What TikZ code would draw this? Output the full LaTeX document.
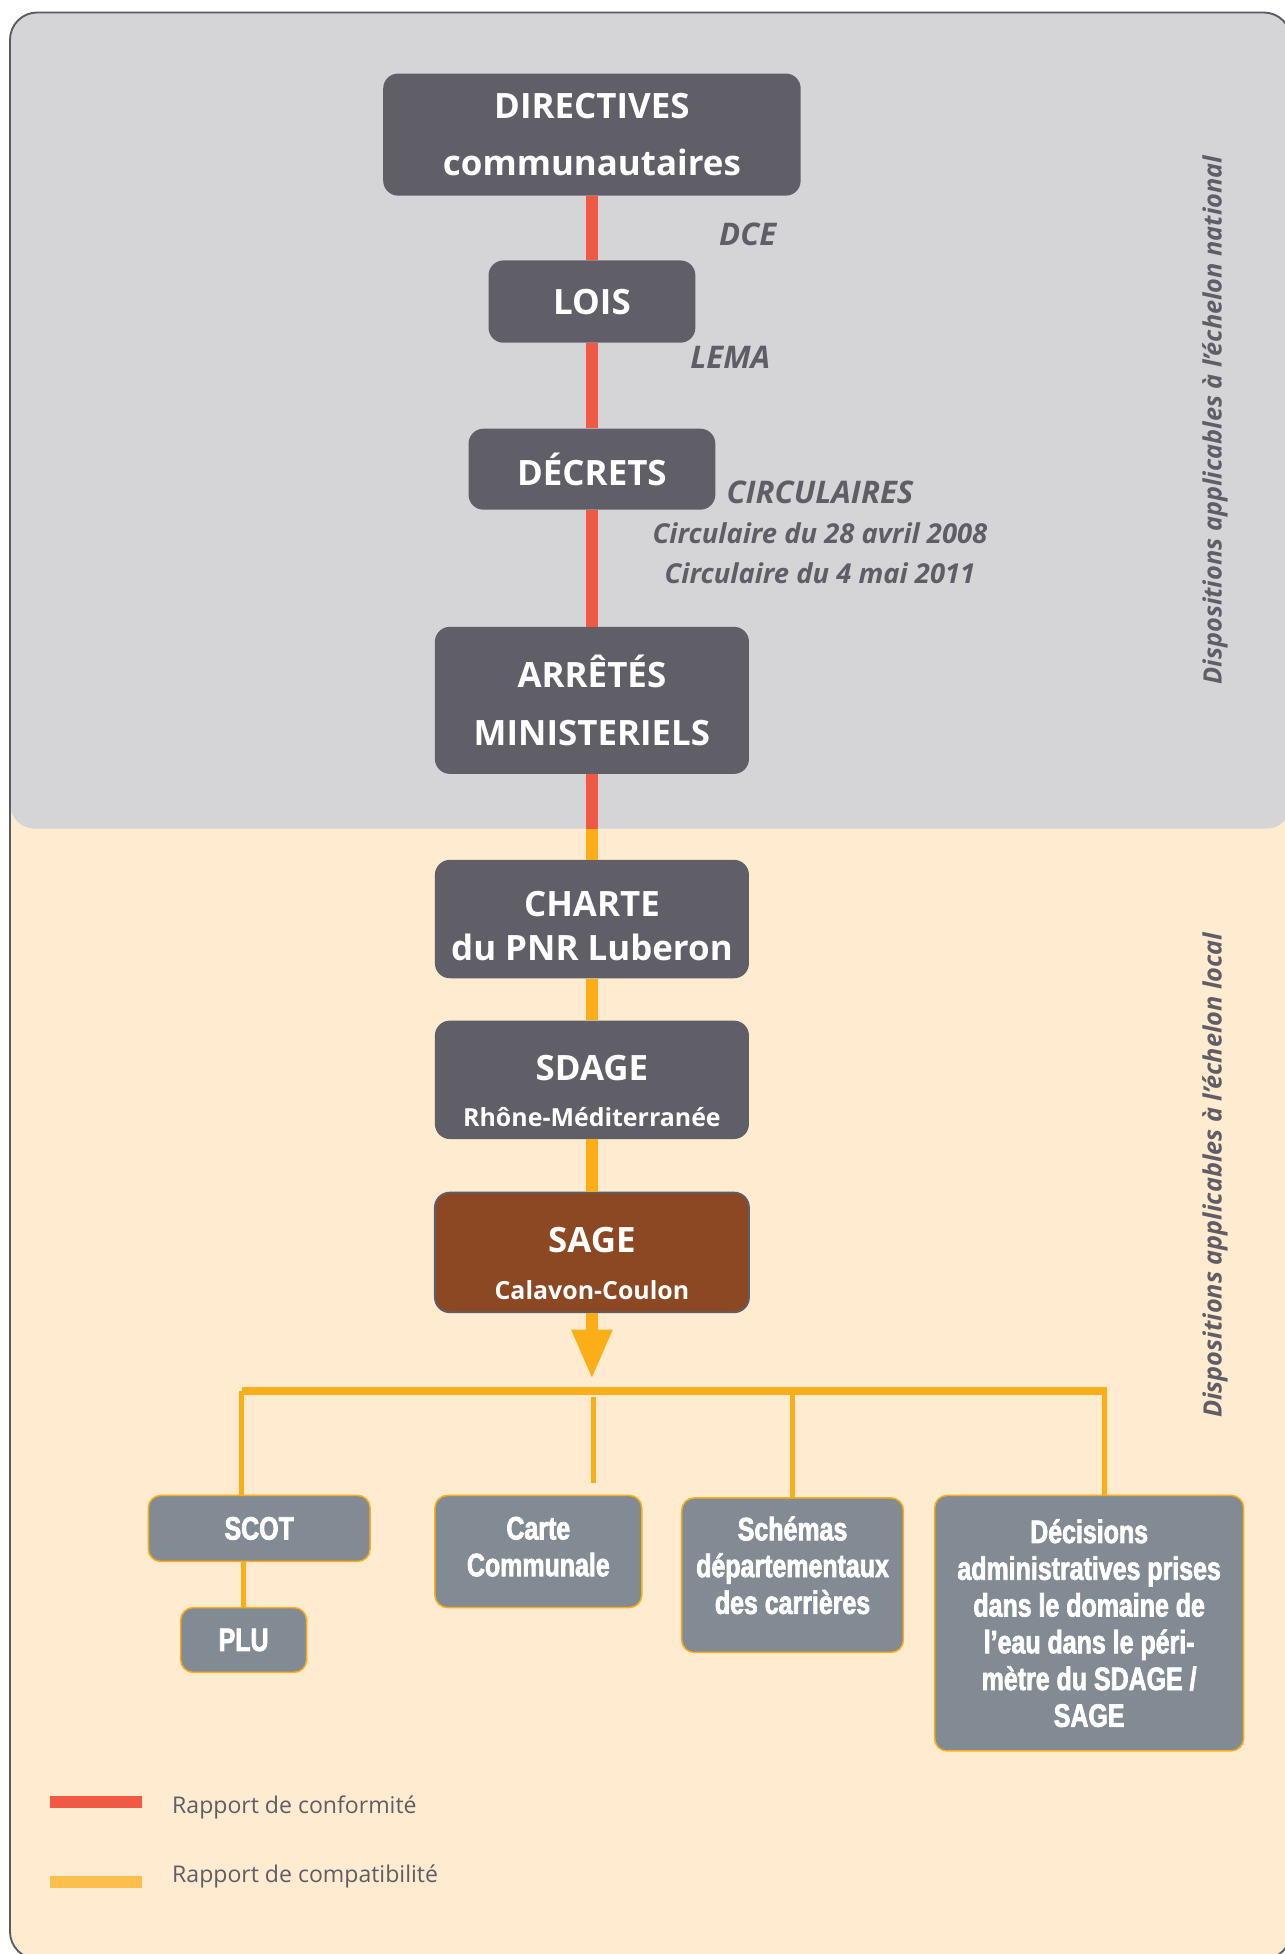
\documentclass[tikz,border=0pt]{standalone}
\usepackage{fontspec}
\setmainfont{Open Sans}
\newfontfamily\narrowfont[FakeStretch=0.77, FakeBold=2.2]{Liberation Sans Bold}
\usetikzlibrary{arrows.meta}
\definecolor{regiongray}{HTML}{D5D5D8}
\definecolor{regionbeige}{HTML}{FEEBD0}
\definecolor{framegray}{HTML}{5B5B63}
\definecolor{boxdark}{HTML}{605F67}
\definecolor{sagebrown}{HTML}{8B4822}
\definecolor{boxblue}{HTML}{828A93}
\definecolor{conformred}{HTML}{F05A45}
\definecolor{compatorange}{HTML}{FBAE17}
\definecolor{legendorange}{HTML}{FCBF4E}
\definecolor{labelgray}{HTML}{5F5E66}
\newcommand{\fsz}[2]{\fontsize{#1}{#2}\selectfont}
\newcommand{\topstrut}[1]{\rule{0pt}{#1}}

\begin{document}
\begin{tikzpicture}[
    x=1pt, y=-1pt,
    level/.style={
        fill=#1, rounded corners=12pt, text=white, align=center,
        inner sep=0pt, font=\bfseries\fsz{28}{46}
    },
    sub/.style={
        fill=boxblue, draw=compatorange, line width=1.2pt, rounded corners=10pt,
        text=white, align=center, inner sep=0pt,
        font=\narrowfont\fsz{26}{29.5}
    },
    lbl/.style={text=labelgray, font=\bfseries\itshape\fsz{25}{30}},
    side/.style={text=labelgray, rotate=90, font=\bfseries\itshape\fsz{20.3}{24}},
    legend/.style={text=labelgray, anchor=west, inner sep=0pt, font=\fsz{18.5}{22}},
    conform/.style={draw=conformred, line width=10pt},
    compat/.style={draw=compatorange, line width=10pt},
    bus/.style={draw=compatorange, line width=6.5pt},
    branch/.style={draw=compatorange, line width=4pt},
]
\clip (0,0) rectangle (1031,1568);

% === Background: two levels ===
\fill[regionbeige, rounded corners=22pt] (8,10) rectangle (1036,1572);
\fill[regiongray, rounded corners=20pt] (8,10) rectangle (1036,665);
\draw[framegray, line width=1.5pt, rounded corners=22pt] (8,10) rectangle (1036,1572);

\node[side] (natlabel) at (975,337) {Dispositions applicables à l’échelon national};
\node[side] (loclabel) at (975,943) {Dispositions applicables à l’échelon local};

% === National level ===
\node[level=boxdark, minimum width=335pt, minimum height=98pt] (directives) at (475,108)
    {DIRECTIVES\\communautaires};
\node[level=boxdark, minimum width=166pt, minimum height=66pt] (lois) at (475,242) {LOIS};
\node[level=boxdark, minimum width=198pt, minimum height=65pt] (decrets) at (475,376.5) {DÉCRETS};
\node[level=boxdark, minimum width=252pt, minimum height=118pt, font=\bfseries\fsz{28}{47}] (arretes) at (475,562)
    {ARRÊTÉS\\MINISTERIELS};

\node[lbl] (dce) at (600,188) {DCE};
\node[lbl] (lema) at (586,287) {LEMA};
\node[lbl, font=\bfseries\itshape\fsz{25}{30}] (circ) at (658,395) {CIRCULAIRES};
\node[lbl, font=\bfseries\itshape\fsz{22}{26}] (circa) at (658,428) {Circulaire du 28 avril 2008};
\node[lbl, font=\bfseries\itshape\fsz{22}{26}] (circb) at (658,460) {Circulaire du 4 mai 2011};

% === Local level ===
\node[level=boxdark, minimum width=252pt, minimum height=95pt, font=\bfseries\fsz{28}{35}] (charte) at (475,737.5)
    {\topstrut{31pt}CHARTE\\du PNR Luberon};
\node[level=boxdark, minimum width=252pt, minimum height=95pt, font=\bfseries\fsz{28}{37}] (sdage) at (475,866.5)
    {\topstrut{38pt}SDAGE\\{\fsz{20}{24}Rhône-Méditerranée}};
\node[level=sagebrown, draw=labelgray, line width=1.5pt, minimum width=252pt, minimum height=96pt,
    font=\bfseries\fsz{28}{37}] (sage) at (475,1005)
    {\topstrut{38pt}SAGE\\{\fsz{20}{24}Calavon-Coulon}};

% === Documents below the SAGE ===
\node[sub, minimum width=178pt, minimum height=53pt] (scot) at (208,1226.5) {SCOT};
\node[sub, minimum width=101pt, minimum height=52pt] (plu) at (195.5,1316) {PLU};
\node[sub, minimum width=166pt, minimum height=90pt] (carte) at (432,1245) {Carte\\Communale\\[-21.5pt]};
\node[sub, minimum width=178pt, minimum height=124pt] (schemas) at (636,1264)
    {Schémas\\départementaux\\des carrières\\[-13.5pt]};
\node[sub, minimum width=248pt, minimum height=205pt] (decisions) at (874,1302.5)
    {Décisions\\administratives prises\\dans le domaine de\\l’eau dans le péri-\\mètre du SDAGE /\\SAGE};

% === Trunk ===
\coordinate (split) at (475,665);
\coordinate (tip) at (475,1107);
\draw[conform] (directives.south) -- (lois.north);
\draw[conform] (lois.south) -- (decrets.north);
\draw[conform] (decrets.south) -- (arretes.north);
\draw[conform] (arretes.south) -- (split);
\draw[compat] (split) -- (charte.north);
\draw[compat] (charte.south) -- (sdage.north);
\draw[compat] (sdage.south) -- (sage.north);
\draw[compat, -{Triangle[width=30pt, length=40pt]}] (sage.south) -- (tip);

% === Branches ===
\coordinate (busl) at (194,1116);
\coordinate (busr) at (888,1116);
\coordinate (cartetop) at (476,1121);
\coordinate (carteend) at (476,1190);
\draw[bus] (busl) -- (busr);
\draw[branch] (busl) -- (busl |- scot.north);
\draw[branch] (cartetop) -- (carteend);
\draw[branch] (schemas.north |- busl) -- (schemas.north);
\draw[branch] ([xshift=-2pt]busr) -- ([xshift=-2pt]busr |- decisions.north);
\draw[branch] (plu.north |- scot.south) -- (plu.north);

% === Legend ===
\fill[conformred] (40,1441) rectangle (114,1451);
\fill[legendorange] (40,1505) rectangle (114,1515);
\node[legend] (conflabel) at (138,1450) {Rapport de conformité};
\node[legend] (compatlabel) at (138,1506) {Rapport de compatibilité};

\end{tikzpicture}
\end{document}
